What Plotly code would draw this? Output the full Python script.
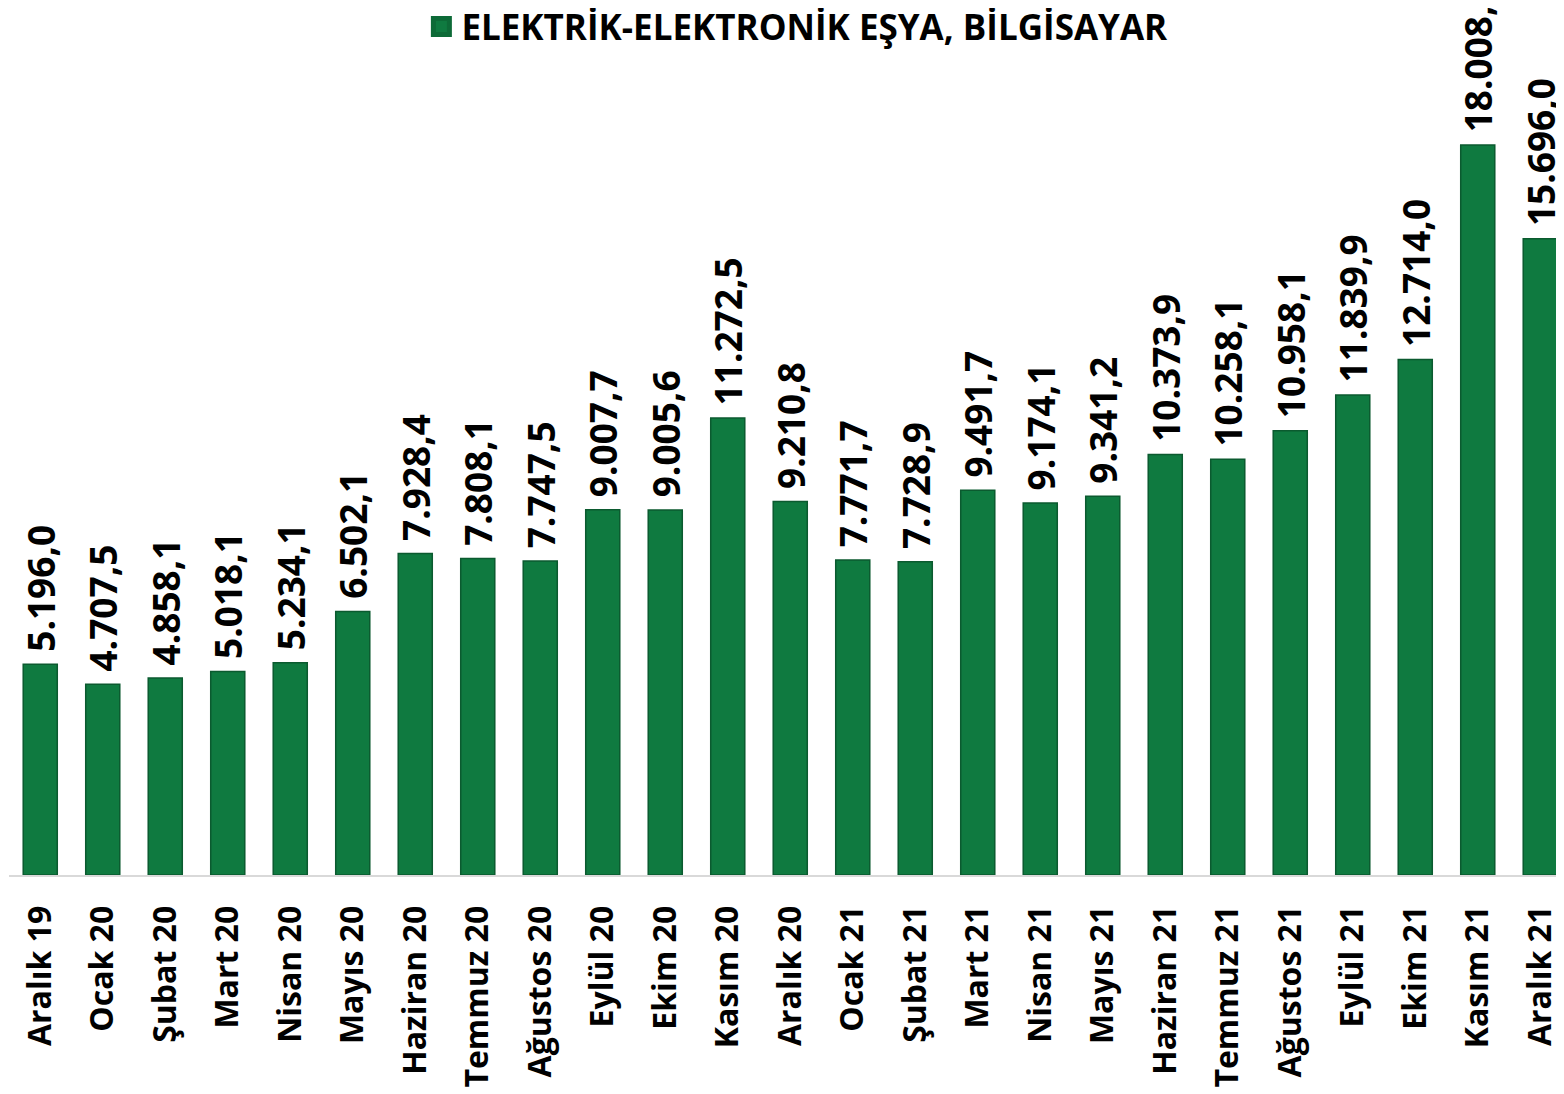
import plotly.graph_objects as go

categories = ["Aralık 19", "Ocak 20", "Şubat 20", "Mart 20", "Nisan 20", "Mayıs 20",
              "Haziran 20", "Temmuz 20", "Ağustos 20", "Eylül 20", "Ekim 20", "Kasım 20",
              "Aralık 20", "Ocak 21", "Şubat 21", "Mart 21", "Nisan 21", "Mayıs 21",
              "Haziran 21", "Temmuz 21", "Ağustos 21", "Eylül 21", "Ekim 21", "Kasım 21",
              "Aralık 21"]
values = [5196.0, 4707.5, 4858.1, 5018.1, 5234.1, 6502.1,
          7928.4, 7808.1, 7747.5, 9007.7, 9005.6, 11272.5,
          9210.8, 7771.7, 7728.9, 9491.7, 9174.1, 9341.2,
          10373.9, 10258.1, 10958.1, 11839.9, 12714.0, 18008.0,
          15696.0]
series_name = "ELEKTRİK-ELEKTRONİK EŞYA, BİLGİSAYAR"
bar_color = "#0f7a40"


def tr_fmt(v):
    s = f"{v:,.1f}"
    return s.replace(",", "X").replace(".", ",").replace("X", ".")


labels = [" " + tr_fmt(v) for v in values]

fig = go.Figure()
fig.add_trace(go.Bar(
    x=categories,
    y=values,
    name=series_name,
    text=labels,
    textposition="outside",
    textangle=-90,
    constraintext="none",
    cliponaxis=False,
    textfont=dict(family="Open Sans", size=37, color="black", weight="bold"),
    marker=dict(color=bar_color, line=dict(color="#0b5a2f", width=1.5)),
    showlegend=False,
))
# legend entry for the series (larger square symbol)
fig.add_trace(go.Scatter(
    x=[None], y=[None],
    mode="markers",
    name=series_name,
    marker=dict(symbol="square", size=27, color=bar_color,
                line=dict(color="#0d6a37", width=5)),
    showlegend=True,
))

fig.update_layout(
    width=1556,
    height=1086,
    margin=dict(l=1, r=0, t=0, b=219, autoexpand=False),
    paper_bgcolor="white",
    plot_bgcolor="white",
    bargap=0.455,
    font=dict(family="Open Sans", color="black"),
    showlegend=True,
    legend=dict(
        orientation="h",
        x=0.507, xanchor="center",
        y=1.0125, yanchor="top",
        font=dict(family="Open Sans", size=35, color="black", weight="bold"),
        bgcolor="rgba(0,0,0,0)",
        itemwidth=30,
    ),
    xaxis=dict(
        type="category",
        range=[-0.5, 24.38],
        tickangle=-90,
        tickfont=dict(family="Open Sans", size=32, color="black", weight="bold"),
        showline=True,
        linecolor="#d9d9d9",
        linewidth=2,
        ticks="",
        ticklabelstandoff=16,
        showgrid=False,
        zeroline=False,
    ),
    yaxis=dict(
        range=[0, 21387],
        visible=False,
        showgrid=False,
        zeroline=False,
    ),
)

fig.write_html("out.html")
